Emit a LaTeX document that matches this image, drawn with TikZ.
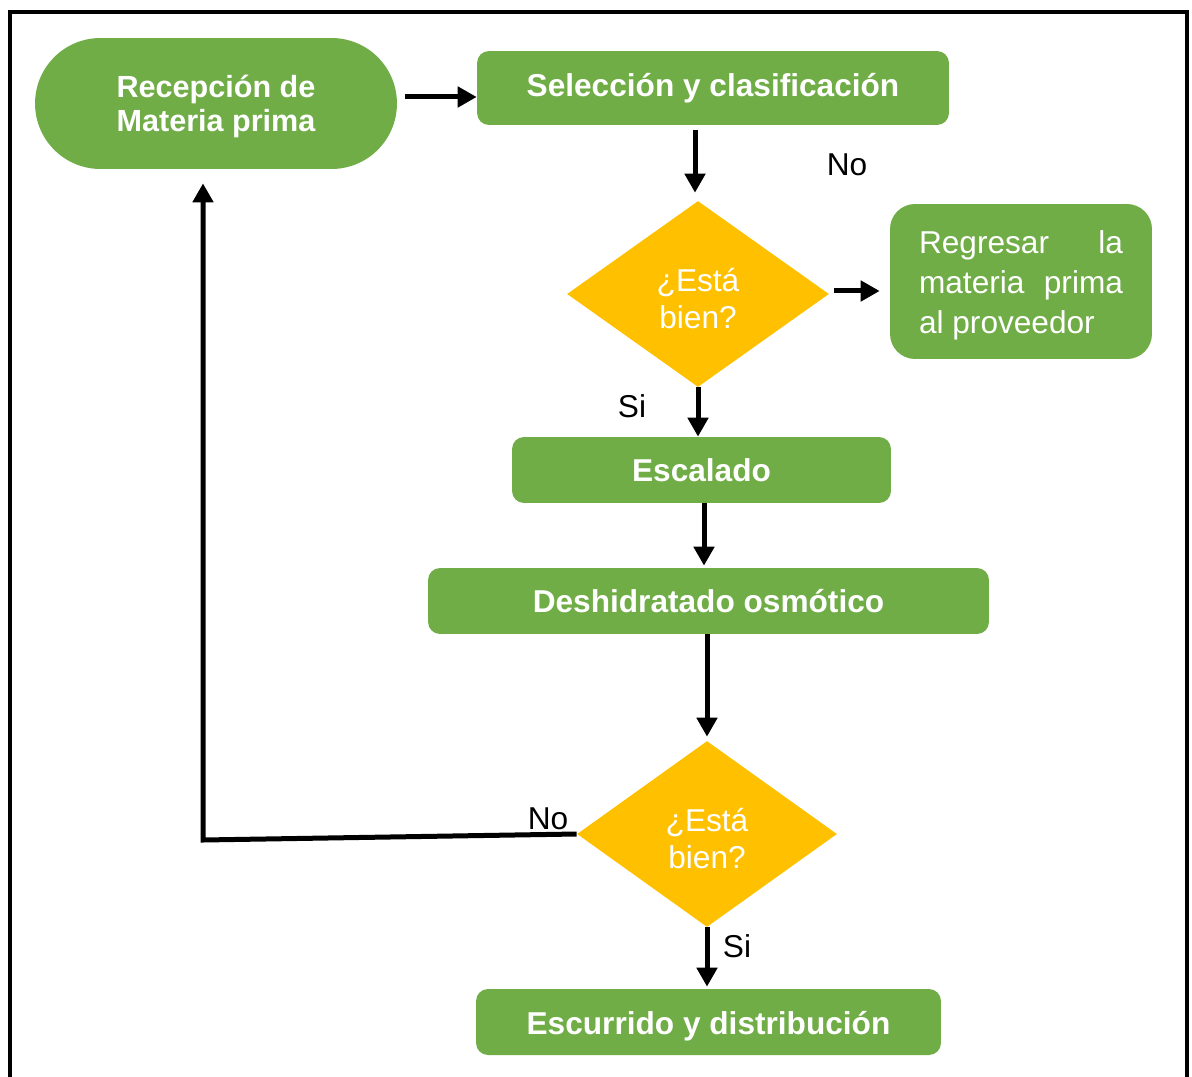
\documentclass[tikz,border=0pt]{standalone}
\usepackage{fontspec}
\setmainfont{Liberation Sans}
\usetikzlibrary{shapes.geometric,arrows.meta}
\definecolor{hojaverde}{HTML}{70AD47}
\definecolor{ambar}{HTML}{FFC000}

\begin{document}
\begin{tikzpicture}[x=0.02cm,y=-0.02cm,
	every node/.style={font=\fontsize{18}{21}\selectfont},
	paso/.style={fill=hojaverde,text=white,font=\fontsize{18}{21}\selectfont\bfseries,rounded corners=0.24cm,inner sep=0pt,minimum height=1.32cm},
	pregunta/.style={diamond,fill=ambar,text=white,inner sep=0pt,align=center,font=\fontsize{18}{21.5}\selectfont},
	flecha/.style={line width=0.1cm,-{Triangle[length=0.38cm,width=0.4cm]}},
	etiq/.style={inner sep=0pt}]
	\useasboundingbox (0,0) rectangle (1192,1077);
	% marco
	\draw[line width=0.08cm] (10,1080) |- (1187,12) -- (1187,1080);

	\node[paso,rounded corners=1.31cm,minimum width=7.24cm,minimum height=2.62cm,align=center,font=\fontsize{17.4}{19.3}\selectfont\bfseries] (recep) at (216,103.5) {\rule{0pt}{0.57cm}Recepción de\\Materia prima};
	\node[paso,minimum width=9.44cm,minimum height=1.48cm] (selec) at (713,88) {Selección y clasificación};
	\node[pregunta,minimum width=5.24cm,minimum height=3.72cm] (bien1) at (698,294) {\rule{0pt}{0.65cm}¿Está\\bien?};
	\node[paso,rounded corners=0.5cm,minimum width=5.24cm,minimum height=3.1cm,text width=4.08cm,align=justify,text height=0.62cm,font=\fontsize{18}{22.7}\selectfont] (regre) at (1021,281.5)
		{Regresar la materia prima al proveedor};
	\node[paso,minimum width=7.58cm] (escal) at (701.5,470) {Escalado};
	\node[paso,minimum width=11.22cm] (deshi) at (708.5,601) {Deshidratado osmótico};
	\node[pregunta,minimum width=5.2cm,minimum height=3.72cm] (bien2) at (707,834) {\rule{0pt}{0.65cm}¿Está\\bien?};
	\node[paso,minimum width=9.3cm,text height=0.63cm] (escur) at (708.5,1022) {Escurrido y distribución};

	\node[etiq] (no1) at (847,165) {No};
	\node[etiq] (si1) at (632,406) {Si};
	\node[etiq] (no2) at (548,819) {No};
	\node[etiq] (si2) at (737,946) {Si};

	\coordinate (vuelta) at (203,840);

	\draw[flecha,shorten <=0.16cm] ([yshift=-0.18cm]recep.east |- selec.west) -- ([yshift=-0.18cm]selec.west);
	\draw[flecha,shorten <=0.1cm,shorten >=0.16cm] ([xshift=-0.06cm]selec.south -| bien1) -- ([xshift=-0.06cm]bien1.north);
	\draw[flecha,shorten <=0.1cm,shorten >=0.2cm] ([yshift=0.06cm]bien1.east) -- ([yshift=0.06cm]bien1.east -| regre.west);
	\draw[flecha] (bien1.south) -- (bien1.south |- escal.north);
	\draw[flecha,shorten >=0.04cm] ([xshift=0.05cm]escal.south) -- ([xshift=0.05cm]escal.south |- deshi.north);
	\draw[flecha,shorten >=0.08cm] (deshi.south -| bien2) -- (bien2.north);
	\draw[flecha,shorten >=0.04cm] (bien2.south) -- (bien2.south |- escur.north);
	\draw[flecha,shorten >=0.28cm] (bien2.west) -- (vuelta) -- (vuelta |- recep.south);
\end{tikzpicture}
\end{document}
